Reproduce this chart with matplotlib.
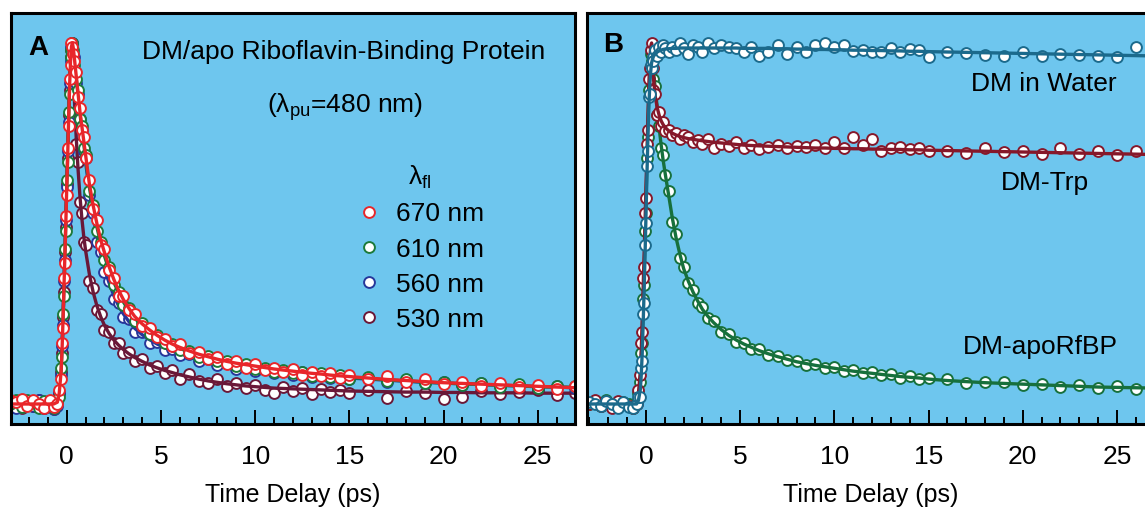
import matplotlib
matplotlib.use("Agg")
import matplotlib.pyplot as plt
from matplotlib.ticker import MultipleLocator

plt.rcParams['font.family'] = ['Liberation Sans', 'DejaVu Sans']
plt.rcParams['mathtext.default'] = 'regular'

# time grid (ps) shared by all traces
delay = [-3.0, -2.7, -2.4, -2.1, -1.8, -1.5, -1.2, -0.9, -0.7, -0.5, -0.4,
         -0.3, -0.25, -0.2, -0.15, -0.1, -0.05, 0.0, 0.05, 0.1, 0.15, 0.2, 0.25, 0.3,
         0.35, 0.4, 0.5, 0.6, 0.7, 0.8, 0.9, 1.0,
         1.2, 1.4, 1.6, 1.8, 2.0, 2.25, 2.5, 2.75, 3.0, 3.3, 3.6,
         4.0, 4.4, 4.8, 5.2, 5.6,
         6.0, 6.5, 7.0, 7.5, 8.0, 8.5, 9.0, 9.5, 10.0, 10.5, 11.0, 11.5, 12.0,
         12.5, 13.0, 13.5, 14.0, 14.5, 15.0,
         16.0, 17.0, 18.0, 19.0, 20.0, 21.0, 22.0, 23.0, 24.0, 25.0, 26.0, 27.0]

# ---- panel A: DM / apoRfBP at four emission wavelengths ----
fit_670 = [0, 0, 0, 0, 0, 0, 0, 0, 0, 0.005, 0.03,
           0.09, 0.15, 0.23, 0.32, 0.41, 0.50, 0.60, 0.69, 0.79, 0.88, 0.95, 0.99, 1.0,
           0.985, 0.96, 0.91, 0.86, 0.81, 0.77, 0.73, 0.69,
           0.61, 0.55, 0.50, 0.455, 0.42, 0.38, 0.345, 0.315, 0.29, 0.265, 0.243,
           0.222, 0.205, 0.19, 0.177, 0.166,
           0.157, 0.147, 0.138, 0.131, 0.124, 0.118, 0.113, 0.109, 0.105, 0.101, 0.097,
           0.094, 0.091, 0.088, 0.085, 0.083, 0.080, 0.078, 0.076,
           0.072, 0.068, 0.065, 0.062, 0.059, 0.057, 0.055, 0.053, 0.051, 0.049, 0.047, 0.045]
pts_670 = [0.01, 0.005, 0.015, -0.005, 0.01, 0.0, -0.01, 0.012, -0.008, 0.0, 0.04,
           0.07, 0.17, 0.21, 0.35, 0.39, 0.52, 0.58, 0.71, 0.77, 0.90, 0.94, 1.0, 0.99,
           0.97, 0.95, 0.92, 0.85, 0.82, 0.76, 0.74, 0.68,
           0.62, 0.54, 0.51, 0.44, 0.43, 0.37, 0.35, 0.30, 0.30, 0.26, 0.25,
           0.215, 0.21, 0.185, 0.18, 0.16,
           0.165, 0.14, 0.145, 0.125, 0.13, 0.11, 0.12, 0.10, 0.112, 0.095, 0.10,
           0.088, 0.098, 0.08, 0.09, 0.078, 0.085, 0.072, 0.08,
           0.07, 0.078, 0.06, 0.068, 0.055, 0.062, 0.05, 0.058, 0.048, 0.052, 0.042, 0.05]

fit_610 = [0, 0, 0, 0, 0, 0, 0, 0, 0, 0.005, 0.03,
           0.09, 0.15, 0.23, 0.32, 0.41, 0.50, 0.60, 0.69, 0.79, 0.88, 0.95, 0.99, 1.0,
           0.985, 0.955, 0.905, 0.855, 0.805, 0.76, 0.72, 0.68,
           0.60, 0.54, 0.49, 0.445, 0.41, 0.37, 0.337, 0.308, 0.283, 0.259, 0.238,
           0.217, 0.2, 0.186, 0.173, 0.163,
           0.154, 0.144, 0.135, 0.128, 0.121, 0.115, 0.11, 0.106, 0.102, 0.098, 0.095,
           0.092, 0.089, 0.086, 0.083, 0.081, 0.078, 0.076, 0.074,
           0.070, 0.067, 0.064, 0.061, 0.058, 0.056, 0.054, 0.052, 0.050, 0.048, 0.047, 0.046]
pts_610 = [0.0, 0.012, -0.008, 0.01, 0.005, -0.012, 0.008, 0.0, -0.01, 0.01, 0.02,
           0.10, 0.13, 0.25, 0.30, 0.43, 0.48, 0.62, 0.67, 0.81, 0.86, 0.96, 0.98, 1.0,
           0.98, 0.94, 0.90, 0.87, 0.79, 0.77, 0.71, 0.69,
           0.59, 0.55, 0.48, 0.45, 0.40, 0.38, 0.33, 0.31, 0.275, 0.265, 0.23,
           0.225, 0.195, 0.19, 0.168, 0.165,
           0.15, 0.148, 0.13, 0.132, 0.118, 0.12, 0.105, 0.11, 0.098, 0.10, 0.09,
           0.095, 0.085, 0.09, 0.078, 0.085, 0.075, 0.08, 0.07,
           0.075, 0.064, 0.068, 0.058, 0.062, 0.052, 0.058, 0.048, 0.055, 0.045, 0.05, 0.05]

fit_560 = [0, 0, 0, 0, 0, 0, 0, 0, 0, 0.005, 0.03,
           0.09, 0.15, 0.23, 0.32, 0.41, 0.50, 0.60, 0.69, 0.79, 0.88, 0.95, 0.99, 1.0,
           0.98, 0.95, 0.90, 0.85, 0.80, 0.75, 0.71, 0.67,
           0.59, 0.52, 0.465, 0.415, 0.375, 0.335, 0.30, 0.272, 0.25, 0.228, 0.21,
           0.192, 0.178, 0.166, 0.156, 0.147,
           0.14, 0.132, 0.125, 0.119, 0.113, 0.108, 0.104, 0.100, 0.097, 0.094, 0.091,
           0.088, 0.085, 0.083, 0.080, 0.078, 0.076, 0.074, 0.072,
           0.069, 0.066, 0.063, 0.060, 0.058, 0.056, 0.054, 0.052, 0.050, 0.048, 0.047, 0.045]
pts_560 = [0.005, -0.01, 0.01, 0.0, -0.005, 0.012, -0.01, 0.005, -0.015, -0.005, 0.03,
           0.08, 0.16, 0.22, 0.34, 0.40, 0.51, 0.60, 0.70, 0.78, 0.89, 0.95, 0.99, 1.0,
           0.97, 0.96, 0.89, 0.86, 0.79, 0.76, 0.70, 0.68,
           0.58, 0.53, 0.45, 0.42, 0.365, 0.34, 0.29, 0.28, 0.24, 0.235, 0.2,
           0.2, 0.17, 0.172, 0.15, 0.152,
           0.135, 0.138, 0.12, 0.125, 0.108, 0.113, 0.098, 0.105, 0.092, 0.098, 0.086,
           0.092, 0.08, 0.088, 0.075, 0.082, 0.072, 0.078, 0.068,
           0.072, 0.062, 0.066, 0.057, 0.061, 0.053, 0.057, 0.049, 0.053, 0.045, 0.05, 0.043]

fit_530 = [0, 0, 0, 0, 0, 0, 0, 0, 0, 0.005, 0.03,
           0.09, 0.15, 0.23, 0.32, 0.41, 0.50, 0.60, 0.69, 0.79, 0.88, 0.95, 0.99, 1.0,
           0.93, 0.85, 0.74, 0.65, 0.575, 0.515, 0.465, 0.425,
           0.36, 0.31, 0.272, 0.242, 0.218, 0.195, 0.177, 0.163, 0.151, 0.139, 0.129,
           0.118, 0.108, 0.1, 0.093, 0.087,
           0.081, 0.075, 0.069, 0.064, 0.060, 0.056, 0.053, 0.050, 0.048, 0.046, 0.044,
           0.043, 0.042, 0.041, 0.040, 0.039, 0.038, 0.037, 0.036,
           0.035, 0.034, 0.033, 0.033, 0.032, 0.032, 0.031, 0.031, 0.031, 0.030, 0.030, 0.030]
pts_530 = [0.01, 0.0, -0.01, 0.008, -0.005, 0.01, -0.012, 0.0, -0.015, 0.005, 0.03,
           0.09, 0.14, 0.24, 0.31, 0.42, 0.49, 0.61, 0.68, 0.80, 0.87, 0.96, 0.98, 1.0,
           0.9, 0.87, 0.72, 0.67, 0.56, 0.53, 0.45, 0.44,
           0.34, 0.32, 0.26, 0.25, 0.205, 0.2, 0.17, 0.168, 0.142, 0.145, 0.12,
           0.125, 0.10, 0.105, 0.085, 0.095,
           0.07, 0.082, 0.065, 0.058, 0.068, 0.05, 0.058, 0.045, 0.052, 0.04, 0.03,
           0.048, 0.035, 0.045, 0.028, 0.042, 0.033, 0.04, 0.03,
           0.04, 0.017, 0.036, 0.03, 0.013, 0.02, 0.035, 0.028, 0.032, 0.038, 0.025, 0.03]

# ---- panel B: DM in water, DM-Trp, DM-apoRfBP ----
fit_water = [0, 0, 0, 0, 0, 0, 0, 0, 0, 0.0, 0.01,
             0.04, 0.08, 0.14, 0.22, 0.31, 0.41, 0.52, 0.63, 0.73, 0.82, 0.88, 0.92, 0.945,
             0.955, 0.963, 0.97, 0.975, 0.978, 0.98, 0.982, 0.983,
             0.984, 0.985, 0.985, 0.986, 0.986, 0.986, 0.986, 0.986, 0.986, 0.986, 0.986,
             0.986, 0.986, 0.986, 0.985, 0.985,
             0.985, 0.985, 0.984, 0.984, 0.983, 0.983, 0.982, 0.982, 0.981, 0.981, 0.98,
             0.98, 0.979, 0.979, 0.978, 0.978, 0.977, 0.977, 0.976,
             0.975, 0.974, 0.973, 0.972, 0.971, 0.97, 0.969, 0.968, 0.967, 0.966, 0.965, 0.964]
pts_water = [0.005, 0.0, -0.005, 0.008, 0.0, -0.01, 0.005, -0.008, -0.012, 0.0, 0.02,
             0.02, 0.1, 0.12, 0.25, 0.28, 0.44, 0.5, 0.66, 0.7, 0.85, 0.86, 0.94, 0.93,
             0.96, 0.95, 0.98, 0.965, 0.99, 0.975, 0.995, 0.985,
             0.975, 0.99, 0.98, 1.0, 0.985, 0.97, 0.995, 0.99, 0.975, 1.0, 0.985,
             0.995, 0.99, 0.985, 0.975, 0.99,
             0.965, 0.975, 0.995, 0.97, 0.99, 0.975, 0.995, 1.0, 0.99, 0.995, 0.978,
             0.98, 0.976, 0.975, 0.985, 0.975, 0.982, 0.98, 0.962,
             0.976, 0.972, 0.968, 0.965, 0.975, 0.963, 0.97, 0.968, 0.965, 0.962, 0.99, 0.964]

fit_trp = [0, 0, 0, 0, 0, 0, 0, 0, 0, 0.005, 0.03,
           0.09, 0.15, 0.23, 0.32, 0.41, 0.50, 0.60, 0.69, 0.79, 0.88, 0.95, 0.99, 1.0,
           0.95, 0.90, 0.85, 0.82, 0.80, 0.785, 0.775, 0.767,
           0.757, 0.75, 0.745, 0.741, 0.738, 0.735, 0.733, 0.731, 0.729, 0.727, 0.725,
           0.723, 0.721, 0.719, 0.717, 0.716,
           0.715, 0.714, 0.713, 0.712, 0.711, 0.71, 0.709, 0.709, 0.708, 0.708, 0.707,
           0.707, 0.706, 0.706, 0.705, 0.705, 0.704, 0.704, 0.703,
           0.702, 0.701, 0.700, 0.699, 0.698, 0.697, 0.696, 0.695, 0.694, 0.693, 0.692, 0.691]
pts_trp = [0.0, 0.01, -0.005, 0.005, -0.01, 0.008, 0.0, -0.006, -0.012, 0.0, 0.04,
           0.08, 0.17, 0.2, 0.35, 0.38, 0.53, 0.57, 0.72, 0.76, 0.9, 0.93, 0.98, 1.0,
           0.93, 0.87, 0.86, 0.80, 0.81, 0.77, 0.78, 0.755,
           0.76, 0.745, 0.75, 0.735, 0.745, 0.74, 0.725, 0.73, 0.72, 0.735, 0.71,
           0.72, 0.715, 0.725, 0.71, 0.718,
           0.705, 0.712, 0.716, 0.71, 0.715, 0.712, 0.718, 0.71, 0.725, 0.708, 0.74,
           0.718, 0.735, 0.7, 0.71, 0.712, 0.705, 0.71, 0.7,
           0.70, 0.695, 0.708, 0.698, 0.7, 0.692, 0.708, 0.693, 0.702, 0.689, 0.70, 0.69]

fit_apo = [0, 0, 0, 0, 0, 0, 0, 0, 0, 0.005, 0.02,
           0.07, 0.12, 0.19, 0.27, 0.36, 0.46, 0.56, 0.66, 0.76, 0.85, 0.92, 0.96, 0.97,
           0.955, 0.92, 0.87, 0.82, 0.765, 0.72, 0.68, 0.645,
           0.58, 0.515, 0.46, 0.415, 0.375, 0.34, 0.31, 0.285, 0.262, 0.242, 0.225,
           0.206, 0.19, 0.177, 0.166, 0.157,
           0.148, 0.139, 0.131, 0.124, 0.117, 0.112, 0.107, 0.103, 0.099, 0.095, 0.091,
           0.088, 0.085, 0.082, 0.079, 0.076, 0.074, 0.072, 0.069,
           0.065, 0.062, 0.059, 0.057, 0.055, 0.053, 0.051, 0.049, 0.047, 0.046, 0.045, 0.044]
pts_apo = [0.0, 0.008, -0.005, 0.01, 0.0, -0.008, 0.005, 0.0, -0.01, 0.005, 0.03,
           0.06, 0.14, 0.17, 0.29, 0.33, 0.48, 0.53, 0.68, 0.74, 0.87, 0.9, 0.97, 0.95,
           0.96, 0.90, 0.88, 0.80, 0.77, 0.71, 0.69, 0.635,
           0.59, 0.505, 0.47, 0.405, 0.38, 0.335, 0.315, 0.28, 0.268, 0.237, 0.23,
           0.2, 0.194, 0.172, 0.17, 0.153,
           0.152, 0.136, 0.134, 0.121, 0.12, 0.108, 0.11, 0.1, 0.102, 0.092, 0.094,
           0.085, 0.088, 0.079, 0.082, 0.073, 0.077, 0.069, 0.072,
           0.068, 0.059, 0.062, 0.06, 0.052, 0.056, 0.048, 0.052, 0.044, 0.05, 0.042, 0.047]

panel_a = [("530 nm", pts_530, fit_530, "#6a1838"),
           ("560 nm", pts_560, fit_560, "#27379a"),
           ("610 nm", pts_610, fit_610, "#1c7a3a"),
           ("670 nm", pts_670, fit_670, "#e8262a")]
panel_b = [("DM-apoRfBP", pts_apo, fit_apo, "#17703c"),
           ("DM-Trp", pts_trp, fit_trp, "#86182a"),
           ("DM in Water", pts_water, fit_water, "#1b6a8c")]

bg = "#6ec6ee"
fs = 19

fig = plt.figure(figsize=(11.45, 5.07), dpi=100)
axA = fig.add_axes([11/1145, 83/507, 564/1145, 411/507])
axB = fig.add_axes([587/1145, 83/507, 567/1145, 411/507])


def style(ax, xmin, xmax):
    ax.set_facecolor(bg)
    ax.set_xlim(xmin, xmax)
    ax.set_ylim(-0.0554, 1.083)
    ax.set_yticks([])
    ax.xaxis.set_major_locator(MultipleLocator(5))
    ax.xaxis.set_minor_locator(MultipleLocator(1))
    ax.tick_params(axis='x', which='major', direction='in', length=10, width=1.4,
                   pad=15, labelsize=fs)
    ax.tick_params(axis='x', which='minor', direction='in', length=5, width=1.4)
    for s in ax.spines.values():
        s.set_linewidth(2.2)
    ax.set_xlabel("Time Delay (ps)", fontsize=18, labelpad=10)


def draw(ax, series):
    for name, pts, fit, col in series:
        ax.plot(delay, pts, 'o', ms=7.8, mfc='white', mec=col, mew=1.4, label=name)
        ax.plot(delay, fit, '-', color=col, lw=2.4)


style(axA, -2.96, 26.98)
style(axB, -3.13, 26.97)
draw(axA, panel_a)
draw(axB, panel_b)

axA.text(0.048, 0.915, "A", transform=axA.transAxes, fontsize=20, fontweight='bold',
         ha='center', va='center')
axA.text(0.590, 0.905, "DM/apo Riboflavin-Binding Protein", transform=axA.transAxes,
         fontsize=fs, ha='center', va='center')
axA.text(0.592, 0.772, r"($\lambda_{pu}$=480 nm)", transform=axA.transAxes,
         fontsize=fs, ha='center', va='center')

h, l = axA.get_legend_handles_labels()
leg = axA.legend(h[::-1], l[::-1], title=r"$\lambda_{fl}$", loc='upper left',
                 bbox_to_anchor=(0.57, 0.69), frameon=False, fontsize=fs,
                 title_fontsize=fs, handletextpad=0.5, labelspacing=0.42,
                 handlelength=1.0)

axB.text(0.046, 0.922, "B", transform=axB.transAxes, fontsize=20, fontweight='bold',
         ha='center', va='center')
axB.text(0.806, 0.827, "DM in Water", transform=axB.transAxes, fontsize=fs,
         ha='center', va='center')
axB.text(0.808, 0.586, "DM-Trp", transform=axB.transAxes, fontsize=fs,
         ha='center', va='center')
axB.text(0.799, 0.187, "DM-apoRfBP", transform=axB.transAxes, fontsize=fs,
         ha='center', va='center')

fig.savefig("out.png", dpi=100)
